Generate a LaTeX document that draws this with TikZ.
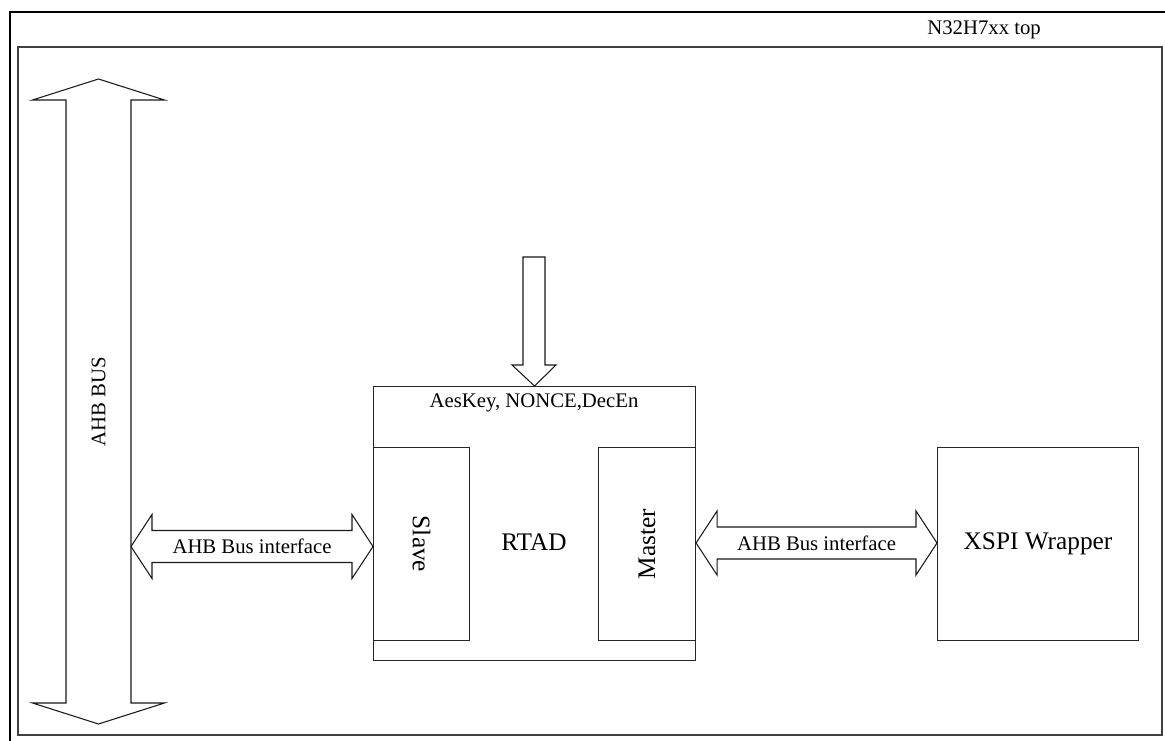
\documentclass[tikz,border=0pt]{standalone}
\usepackage{fontspec}
\setmainfont{Liberation Serif}
\usetikzlibrary{calc}

\tikzset{
  unit/.style={draw=black!85, line width=0.6pt, fill=white, inner sep=0pt, anchor=north west},
  blockline/.style={draw=black!90, line width=0.6pt, line join=miter, fill=white},
  lbl/.style={font=\fontsize{11.8}{14}\selectfont, inner sep=0pt},
  biglbl/.style={font=\fontsize{14.4}{17}\selectfont, inner sep=0pt},
}

% horizontal double block arrow, tip to tip
\newcommand{\hblock}[2]{%
  \draw[blockline] let \p1=(#1), \p2=(#2) in
    (\x1,\y1) -- (\x1+0.42cm,\y1+0.64cm) -- (\x1+0.42cm,\y1+0.32cm)
    -- (\x2-0.42cm,\y1+0.32cm) -- (\x2-0.42cm,\y1+0.64cm) -- (\x2,\y1)
    -- (\x2-0.42cm,\y1-0.64cm) -- (\x2-0.42cm,\y1-0.32cm)
    -- (\x1+0.42cm,\y1-0.32cm) -- (\x1+0.42cm,\y1-0.64cm) -- cycle;
}

\begin{document}
\begin{tikzpicture}
	\useasboundingbox (0,0) rectangle (23.3,14.8);
	% frames
	\draw[line width=1.2pt] (0.2,-1) rectangle (24,14.56);
	\draw[draw=black!75, line width=0.6pt] (0.36,0.1) rectangle (23.24,13.86);
	\node[lbl, anchor=base west] (title) at (18.54,14.1) {N32H7xx top};

	% system bus
	\coordinate (bustop) at (1.97,13.22);
	\coordinate (busbot) at (1.97,0.32);
	\draw[blockline] let \p1=(bustop), \p2=(busbot) in
		(\x1,\y1) -- (\x1+1.32cm,\y1-0.42cm) -- (\x1+0.65cm,\y1-0.42cm)
		-- (\x1+0.65cm,\y2+0.42cm) -- (\x1+1.32cm,\y2+0.42cm) -- (\x2,\y2)
		-- (\x1-1.32cm,\y2+0.42cm) -- (\x1-0.65cm,\y2+0.42cm)
		-- (\x1-0.65cm,\y1-0.42cm) -- (\x1-1.32cm,\y1-0.42cm) -- cycle;
	\node[lbl, rotate=90] (bus) at ($(bustop)!0.5!(busbot)$) {AHB BUS};

	% decryption block
	\node[unit, minimum width=6.44cm, minimum height=5.48cm] (rtad) at (7.46,7.08) {};
	\node[unit, minimum width=1.92cm, minimum height=3.86cm] (slave) at (7.46,5.86) {};
	\node[unit, minimum width=1.94cm, minimum height=3.86cm] (master) at (11.96,5.86) {};
	\node[lbl] (keys) at (10.68,6.74) {AesKey, NONCE,DecEn};
	\node[biglbl] (rtadname) at (10.68,3.95) {RTAD};
	\node[biglbl, rotate=-90] (slavename) at (slave.center) {Slave};
	\node[biglbl, rotate=90] (mastername) at (master.center) {Master};

	% flash side
	\node[unit, minimum width=4.02cm, minimum height=3.86cm] (xspi) at (18.74,5.86) {};
	\node[biglbl] (xspiname) at (xspi.center) {XSPI Wrapper};

	% key input
	\coordinate (keyin) at (10.68,9.66);
	\draw[blockline] let \p1=(keyin), \p2=(rtad.north) in
		(\x1-0.22cm,\y1) -- (\x1+0.22cm,\y1) -- (\x1+0.22cm,\y2+0.42cm)
		-- (\x1+0.44cm,\y2+0.42cm) -- (\x2,\y2) -- (\x1-0.44cm,\y2+0.42cm)
		-- (\x1-0.22cm,\y2+0.42cm) -- cycle;

	% bus interfaces
	\coordinate (busside) at (2.62,3.87);
	\coordinate (slaveside) at (slave.west |- busside);
	\hblock{busside}{slaveside}
	\node[lbl] (slaveif) at ($(busside)!0.5!(slaveside)$) {AHB Bus interface};
	\coordinate (masterside) at (master.east |- 0,3.94);
	\coordinate (xspiside) at (xspi.west |- masterside);
	\hblock{masterside}{xspiside}
	\node[lbl] (masterif) at ($(masterside)!0.5!(xspiside)$) {AHB Bus interface};
\end{tikzpicture}
\end{document}
